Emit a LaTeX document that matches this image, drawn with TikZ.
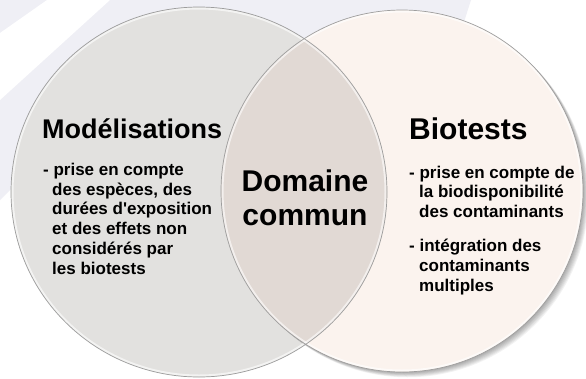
\documentclass[tikz,border=0pt]{standalone}
\usepackage{fontspec}
\setmainfont{Liberation Sans}[Ligatures=TeXOff]
\usetikzlibrary{calc}
\definecolor{lav}{HTML}{EFEFF5}
\definecolor{lfill}{HTML}{E2E1DF}
\definecolor{rfill}{HTML}{FBF3EE}
\definecolor{ofill}{HTML}{E1D9D4}
\definecolor{rimc}{HTML}{9E9E9E}
\begin{document}
\begin{tikzpicture}[x=1pt,y=-1pt,
  titletext/.style={font=\bfseries\fontsize{27}{32}\selectfont, anchor=base west, inner sep=0pt},
  bigtext/.style={font=\bfseries\fontsize{30}{34}\selectfont, anchor=base, inner sep=0pt},
  bodytext/.style={font=\bfseries\fontsize{17}{20}\selectfont, anchor=base west, inner sep=0pt},
  rimline/.style={draw=rimc, line width=0.7pt}]
\useasboundingbox (0,0) rectangle (586,378);
% background
\fill[white] (0,0) rectangle (586,378);
\fill[lav] (0,0) -- (471,0) -- (455,50) -- (150,50) -- (0,200) -- cycle;
\fill[white] (47,0) -- (110,0) -- (0,100) -- (0,33) -- cycle;
% left circle
\coordinate (lc) at (199,192);
\coordinate (rc) at (402,191);
\fill[lfill] (lc) ellipse [x radius=188, y radius=185];
% shadow of right circle
\foreach \i in {1,...,7}
  \fill[black, opacity=0.05] ($(rc)+(0.8*\i,0.75*\i)$) circle (181);
% right circle
\fill[rfill] (rc) circle (181);
% overlap
\begin{scope}
  \clip (lc) ellipse [x radius=188, y radius=185];
  \fill[ofill] (rc) circle (181);
\end{scope}
% inner light rims
\draw[white, opacity=0.6, line width=2pt] (lc) ellipse [x radius=186.5, y radius=183.5];
\draw[white, opacity=0.6, line width=2pt] (rc) circle (179.5);
% outlines
\draw[rimline] (lc) ellipse [x radius=188, y radius=185];
\draw[rimline] (rc) circle (181);
% titles
\node[titletext] (mod) at (42,138) {Modélisations};
\node[titletext, font=\bfseries\fontsize{30}{34}\selectfont] (bio) at (409,139) {Biotests};
\node[bigtext] (dom) at (305,191) {Domaine};
\node[bigtext] (com) at (305,225) {commun};
% left body
\node[bodytext] (l1) at (43,175.5) {- prise en compte};
\node[bodytext] (l2) at (52,195.2) {des espèces, des};
\node[bodytext] (l3) at (52,214.9) {durées d'exposition};
\node[bodytext] (l4) at (52,234.6) {et des effets non};
\node[bodytext] (l5) at (52,254.3) {considérés par};
\node[bodytext] (l6) at (52,274) {les biotests};
% right body
\node[bodytext] (r1) at (409,178) {- prise en compte de};
\node[bodytext] (r2) at (419,197.7) {la biodisponibilité};
\node[bodytext] (r3) at (419,217.4) {des contaminants};
\node[bodytext] (r4) at (409,251.5) {- intégration des};
\node[bodytext] (r5) at (419,271.2) {contaminants};
\node[bodytext] (r6) at (419,291) {multiples};
\end{tikzpicture}
\end{document}
